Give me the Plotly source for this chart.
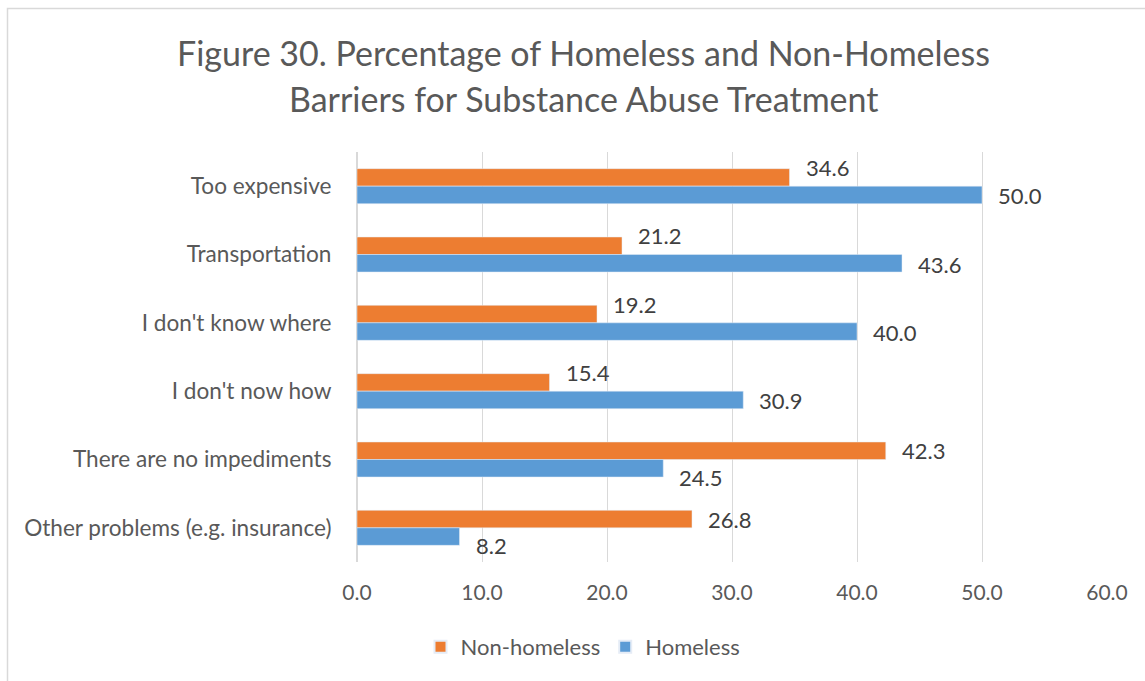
import plotly.graph_objects as go

# Barrier categories, top to bottom
categories = [
    "Too expensive",
    "Transportation",
    "I don't know where",
    "I don't now how",
    "There are no impediments",
    "Other problems (e.g. insurance)",
]
non_homeless = [34.6, 21.2, 19.2, 15.4, 42.3, 26.8]
homeless = [50.0, 43.6, 40.0, 30.9, 24.5, 8.2]
x_ticks = [0, 10, 20, 30, 40, 50, 60]
x_tick_labels = ["0.0", "10.0", "20.0", "30.0", "40.0", "50.0", "60.0"]
title_lines = [
    "Figure 30. Percentage of Homeless and Non-Homeless",
    "Barriers for Substance Abuse Treatment",
]

ORANGE = "#ED7D31"
BLUE = "#5B9BD5"
GRID = "#D9D9D9"
TEXT = "#595959"
LABEL = "#404040"
FONT = "Lato, Carlito, Calibri, sans-serif"

W, H = 1145, 681
L, R, T, B = 357, 38, 152, 119
PW, PH = W - L - R, H - T - B


def px_x(px):
    return (px - L) / PW


def px_y(py):
    return (H - B - py) / PH


fig = go.Figure()
fig.add_trace(go.Bar(y=categories, x=non_homeless, name="Non-homeless",
                     orientation="h", marker_color=ORANGE))
fig.add_trace(go.Bar(y=categories, x=homeless, name="Homeless",
                     orientation="h", marker_color=BLUE))

# value labels placed beyond the bar ends; nudged apart so neighbouring labels don't collide
annotations = []
row_h = PH / len(categories)
bar_h = row_h * (1 - 0.488) / 2
for cat, nh, hl in zip(categories, non_homeless, homeless):
    if nh < hl:
        nh_shift, hl_shift = bar_h / 2 + 10, -bar_h / 2 - 1
    else:
        nh_shift, hl_shift = bar_h / 2, -bar_h / 2 - 9
    for val, ys in ((nh, nh_shift), (hl, hl_shift)):
        annotations.append(dict(
            x=val, y=cat, xref="x", yref="y", text=f"{val:.1f}",
            showarrow=False, xanchor="left", yanchor="middle",
            xshift=14, yshift=ys,
            font=dict(family=FONT, size=22, color=LABEL),
        ))

for line, py in zip(title_lines, (52, 98)):
    annotations.append(dict(
        x=px_x(583.5), y=px_y(py), xref="paper", yref="paper", text=line,
        showarrow=False, xanchor="center", yanchor="middle",
        font=dict(family=FONT, size=34, color=TEXT),
    ))

fig.update_layout(
    width=W, height=H,
    margin=dict(l=L, r=R, t=T, b=B),
    paper_bgcolor="white", plot_bgcolor="white",
    barmode="group", bargap=0.488, bargroupgap=0,
    font=dict(family=FONT, color=TEXT, size=22),
    showlegend=True,
    legend=dict(orientation="h", x=px_x(583), y=px_y(647),
                xanchor="center", yanchor="middle",
                font=dict(family=FONT, size=22, color=TEXT),
                itemsizing="constant", traceorder="normal"),
    annotations=annotations,
    shapes=[dict(type="rect", xref="paper", yref="paper",
                 x0=px_x(7.5), x1=px_x(1152), y0=px_y(690), y1=px_y(8.5),
                 line=dict(color=GRID, width=1.5), fillcolor="rgba(0,0,0,0)",
                 layer="below")],
    xaxis=dict(range=[0, 60], tickvals=x_ticks, ticktext=x_tick_labels,
               showgrid=True, gridcolor=GRID, gridwidth=1.3,
               zeroline=True, zerolinecolor=GRID, zerolinewidth=2,
               showline=False, ticks="outside", ticklen=12,
               tickcolor="rgba(0,0,0,0)",
               tickfont=dict(family=FONT, size=21, color=TEXT)),
    yaxis=dict(autorange="reversed", showgrid=False, showline=False,
               ticks="outside", ticklen=20, tickcolor="rgba(0,0,0,0)",
               tickfont=dict(family=FONT, size=22.6, color=TEXT)),
)

fig.write_html("out.html")
